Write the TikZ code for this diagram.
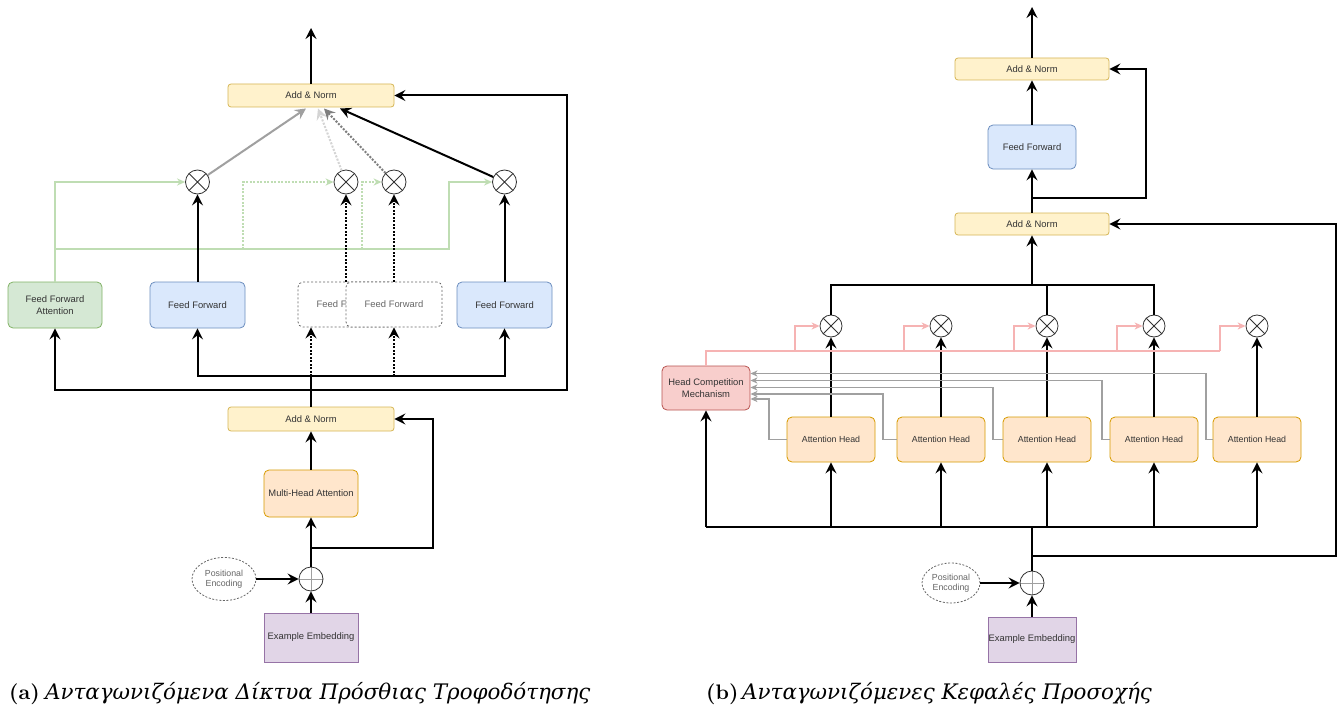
\documentclass[tikz,border=0pt]{standalone}
\usepackage{fontspec}
\usetikzlibrary{arrows.meta,shapes.geometric}
\newfontfamily\diagfont{Liberation Sans}
\newfontfamily\greekit{DejaVu Serif Italic}
\newfontfamily\labelbold{lmroman10-bold.otf}

\definecolor{ynfill}{HTML}{FFF2CC}\definecolor{ynline}{HTML}{D6B656}
\definecolor{bfill}{HTML}{DAE8FC}\definecolor{bline}{HTML}{6C8EBF}
\definecolor{gfill}{HTML}{D5E8D4}\definecolor{gline}{HTML}{82B366}
\definecolor{ofill}{HTML}{FFE6CC}\definecolor{oline}{HTML}{D79B00}
\definecolor{pfill}{HTML}{E1D5E7}\definecolor{pline}{HTML}{9673A6}
\definecolor{rfill}{HTML}{F8CECC}\definecolor{rline}{HTML}{B85450}
\definecolor{txt}{HTML}{333333}
\definecolor{softtxt}{HTML}{666666}
\definecolor{greenwire}{HTML}{BFDDB3}
\definecolor{pinkwire}{HTML}{F6B3B3}
\definecolor{graywire}{HTML}{A0A0A0}
\definecolor{midwire}{HTML}{7F7F7F}
\definecolor{palewire}{HTML}{D4D4D4}

\tikzset{
  box/.style={draw, line width=0.8pt, rounded corners=5pt, align=center,
    inner sep=0pt, text=txt, font=\diagfont\fontsize{9.4}{11.5}\selectfont},
  addnorm/.style={box, fill=ynfill, draw=ynline, rounded corners=3pt},
  ffbox/.style={box, fill=bfill, draw=bline, minimum width=95, minimum height=46},
  ghostbox/.style={box, fill=white, draw=softtxt, dash pattern=on 2pt off 2pt,
    text=softtxt, minimum width=96, minimum height=45},
  headbox/.style={box, fill=ofill, draw=oline, minimum width=88, minimum height=45,
    font=\diagfont\fontsize{8.8}{10.5}\selectfont},
  embbox/.style={box, rounded corners=0pt, fill=pfill, draw=pline},
  posenc/.style={ellipse, draw=softtxt, line width=0.8pt, dash pattern=on 2pt off 1.6pt,
    fill=white, inner sep=0pt, align=center, text=softtxt},
  otimes/.style={circle, draw=txt, line width=0.8pt, fill=white, minimum size=#1,
    inner sep=0pt, path picture={\draw[txt, line width=0.8pt]
      (path picture bounding box.north west) -- (path picture bounding box.south east)
      (path picture bounding box.north east) -- (path picture bounding box.south west);}},
  oplus/.style={circle, draw=txt, line width=0.8pt, fill=white, minimum size=24,
    inner sep=0pt, path picture={\draw[graywire, line width=0.7pt]
      (path picture bounding box.north) -- (path picture bounding box.south)
      (path picture bounding box.west) -- (path picture bounding box.east);}},
  wire/.style={line width=2pt, black},
  tip/.style={-{Stealth[length=11pt, width=11pt, inset=4pt]}},
  arr/.style={wire, tip},
  dotwire/.style={dash pattern=on 2pt off 1.5pt},
  thinarr/.style={line width=1.5pt, -{Stealth[length=8pt, width=7pt, inset=2.5pt]}},
  greenarr/.style={thinarr, greenwire},
  pinkarr/.style={line width=1.2pt, pinkwire, -{Stealth[length=8pt, width=7pt, inset=2.5pt]}},
  grayarr/.style={line width=1.5pt, graywire, -{Stealth[length=7pt, width=6pt, inset=2pt]}},
  caplabel/.style={anchor=base west, inner sep=0pt, font=\labelbold\fontsize{21}{26}\selectfont},
  captext/.style={anchor=base west, inner sep=0pt, font=\greekit\fontsize{21.4}{26}\selectfont},
}

\begin{document}
\begin{tikzpicture}[x=1pt, y=-1pt]
\useasboundingbox[fill=white] (0,0) rectangle (1341,706);

% ---------------- (a) competing feed-forward networks ----------------
\node[addnorm, minimum width=166, minimum height=23] (AN1) at (311,95.5) {Add \& Norm};
\node[addnorm, minimum width=166, minimum height=24] (AN2) at (311,419) {Add \& Norm};
\node[box, fill=ofill, draw=oline, minimum width=94, minimum height=47] (MHA) at (311,493.5) {Multi-Head Attention};
\node[oplus] (opL) at (311,579) {};
\node[posenc, minimum width=64, minimum height=43, font=\diagfont\fontsize{8.8}{10.5}\selectfont] (PEL) at (224,579) {Positional\\Encoding};
\node[embbox, minimum width=94, minimum height=49] (EEL) at (311,637.5) {Example Embedding};

\node[box, fill=gfill, draw=gline, minimum width=94, minimum height=46] (FFA) at (55,305) {Feed Forward\\Attention};
\node[ffbox] (FF1) at (197.5,305) {Feed Forward};
\node[ghostbox] (FFd1) at (346,304.5) {Feed Forward};
\node[ghostbox] (FFd2) at (394,304.5) {Feed Forward};
\node[ffbox] (FF4) at (504.5,305) {Feed Forward};

\node[otimes=24] (cl1) at (197.5,182) {};
\node[otimes=24] (cl2) at (346,182) {};
\node[otimes=24] (cl3) at (394,182) {};
\node[otimes=24] (cl4) at (504.5,182) {};

\coordinate (outL) at (311,28);
\coordinate (t1) at (306,108.5);
\coordinate (t2) at (318,108.5);
\coordinate (t3) at (324,108.5);
\coordinate (t4) at (340,108.5);
\coordinate (jL) at (311,376);
\coordinate (jd2) at (394,376);
\coordinate (lo) at (311,390);
\coordinate (loR) at (567,390);
\coordinate (sL) at (311,548);
\coordinate (sLR) at (433,548);
\coordinate (gA) at (55,182);
\coordinate (gB) at (55,249);
\coordinate (gC) at (449,249);
\coordinate (gD) at (449,182);
\coordinate (gE) at (243,249);
\coordinate (gF) at (362,249);

% gating signals of the feed-forward attention
\draw[greenarr] (FFA.north) -- (gA) -- (cl1.west);
\draw[greenarr] (gB) -- (gC) -- (gD) -- (cl4.west);
\draw[greenarr, dotwire] (gE) |- (cl2.west);
\draw[greenarr, dotwire] (gF) |- (cl3.west);

% weighted outputs into the residual sum
\draw[line width=2pt, graywire, tip] (cl1) -- (t1);
\draw[line width=2pt, palewire, dotwire, tip] (cl2) -- (t2);
\draw[line width=2pt, midwire, dotwire, tip] (cl3) -- (t3);
\draw[arr] (cl4) -- (t4);
\draw[arr] (AN1.north) -- (outL);

\draw[arr] (FF1) -- (cl1);
\draw[arr, dotwire] (FFd1) -- (cl2);
\draw[arr, dotwire] (FFd2) -- (cl3);
\draw[arr] (FF4) -- (cl4);

% distribution of the attention output
\draw[wire] (AN2.north) -- (jL);
\draw[arr] (jL) -| (FF1);
\draw[arr] (jL) -| (FF4);
\draw[arr, dotwire] (jL) -- (jL |- FFd1.south);
\draw[arr, dotwire] (jd2) -- (FFd2);
\draw[arr] (lo) -| (FFA);
\draw[arr] (lo) -- (loR) |- (AN1.east);

\draw[arr] (MHA) -- (AN2);
\draw[arr] (opL) -- (MHA);
\draw[arr] (sL) -- (sLR) |- (AN2.east);
\draw[arr] (PEL) -- (opL);
\draw[arr] (EEL) -- (opL);

% ---------------- (b) competing attention heads ----------------
\begin{scope}[every node/.append style={font=\diagfont\fontsize{8.8}{10.5}\selectfont}]
\node[addnorm, minimum width=154, minimum height=22] (ANR1) at (1032,69) {Add \& Norm};
\node[box, fill=bfill, draw=bline, minimum width=88, minimum height=44] (FFR) at (1032,147) {Feed Forward};
\node[addnorm, minimum width=154, minimum height=22] (ANR2) at (1032,224) {Add \& Norm};

\node[otimes=22] (cr1) at (831,326) {};
\node[otimes=22] (cr2) at (941,326) {};
\node[otimes=22] (cr3) at (1047,326) {};
\node[otimes=22] (cr4) at (1154,326) {};
\node[otimes=22] (cr5) at (1257,326) {};

\node[headbox] (AH1) at (831,439.5) {Attention Head};
\node[headbox] (AH2) at (941,439.5) {Attention Head};
\node[headbox] (AH3) at (1047,439.5) {Attention Head};
\node[headbox] (AH4) at (1154,439.5) {Attention Head};
\node[headbox] (AH5) at (1257,439.5) {Attention Head};

\node[box, fill=rfill, draw=rline, minimum width=88, minimum height=44] (HCM) at (706,388) {Head Competition\\Mechanism};

\node[oplus] (opR) at (1032,583) {};
\node[posenc, minimum width=58, minimum height=40] (PER) at (951,583) {Positional\\Encoding};
\node[embbox, minimum width=88, minimum height=45] (EER) at (1032,639.5) {Example Embedding};
\end{scope}

\coordinate (outR) at (1032,7);
\coordinate (sR) at (1032,198);
\coordinate (sRR) at (1146,198);
\coordinate (topJ) at (1032,285);
\coordinate (tA) at (831,285);
\coordinate (tB) at (1154,285);
\coordinate (bL) at (706,527);
\coordinate (bR) at (1257,527);
\coordinate (bJ) at (1032,527);
\coordinate (fJ) at (1032,556);
\coordinate (fR) at (1336,556);
\coordinate (p0) at (706,351);
\coordinate (p5) at (1220,351);
\coordinate (g1) at (769,399);
\coordinate (g2) at (883,394);
\coordinate (g3) at (993,387.5);
\coordinate (g4) at (1102,380.5);
\coordinate (g5) at (1206,373.5);

\draw[arr] (ANR1.north) -- (outR);
\draw[arr] (FFR) -- (ANR1);
\draw[arr] (ANR2) -- (FFR);
\draw[arr] (sR) -- (sRR) |- (ANR1.east);
\draw[arr] (topJ) -- (ANR2);
\draw[wire] (cr1.north) |- (tA) -- (tB) -- (cr4.north);
\draw[wire] (cr3.north) -- (cr3.north |- tA);

\draw[arr] (AH1) -- (cr1);
\draw[arr] (AH2) -- (cr2);
\draw[arr] (AH3) -- (cr3);
\draw[arr] (AH4) -- (cr4);
\draw[arr] (AH5) -- (cr5);

% head scores reported to the competition mechanism
\draw[grayarr] (AH1.west) -| (g1) -- (g1 -| HCM.east);
\draw[grayarr] (AH2.west) -| (g2) -- (g2 -| HCM.east);
\draw[grayarr] (AH3.west) -| (g3) -- (g3 -| HCM.east);
\draw[grayarr] (AH4.west) -| (g4) -- (g4 -| HCM.east);
\draw[grayarr] (AH5.west) -| (g5) -- (g5 -| HCM.east);

% gates from the competition mechanism
\draw[line width=1.2pt, pinkwire] (HCM.north) -- (p0) -- (p5);
\draw[pinkarr] (795,351) |- (cr1.west);
\draw[pinkarr] (904,351) |- (cr2.west);
\draw[pinkarr] (1014,351) |- (cr3.west);
\draw[pinkarr] (1117,351) |- (cr4.west);
\draw[pinkarr] (p5) |- (cr5.west);

% input fan-out
\draw[wire] (bL) -- (bR);
\draw[arr] (bL) -- (HCM);
\draw[arr] (AH1 |- bL) -- (AH1);
\draw[arr] (AH2 |- bL) -- (AH2);
\draw[arr] (AH3 |- bL) -- (AH3);
\draw[arr] (AH4 |- bL) -- (AH4);
\draw[arr] (AH5 |- bL) -- (AH5);
\draw[wire] (opR) -- (bJ);
\draw[arr] (fJ) -- (fR) |- (ANR2.east);
\draw[arr] (PER) -- (opR);
\draw[arr] (EER) -- (opR);

% ---------------- captions ----------------
\node[caplabel] (capA) at (9,699) {(a)};
\node[captext] (txtA) at (45,699) {Ανταγωνιζόμενα Δίκτυα Πρόσθιας Τροφοδότησης};
\node[caplabel] (capB) at (706,699) {(b)};
\node[captext] (txtB) at (742,699) {Ανταγωνιζόμενες Κεφαλές Προσοχής};
\end{tikzpicture}
\end{document}
